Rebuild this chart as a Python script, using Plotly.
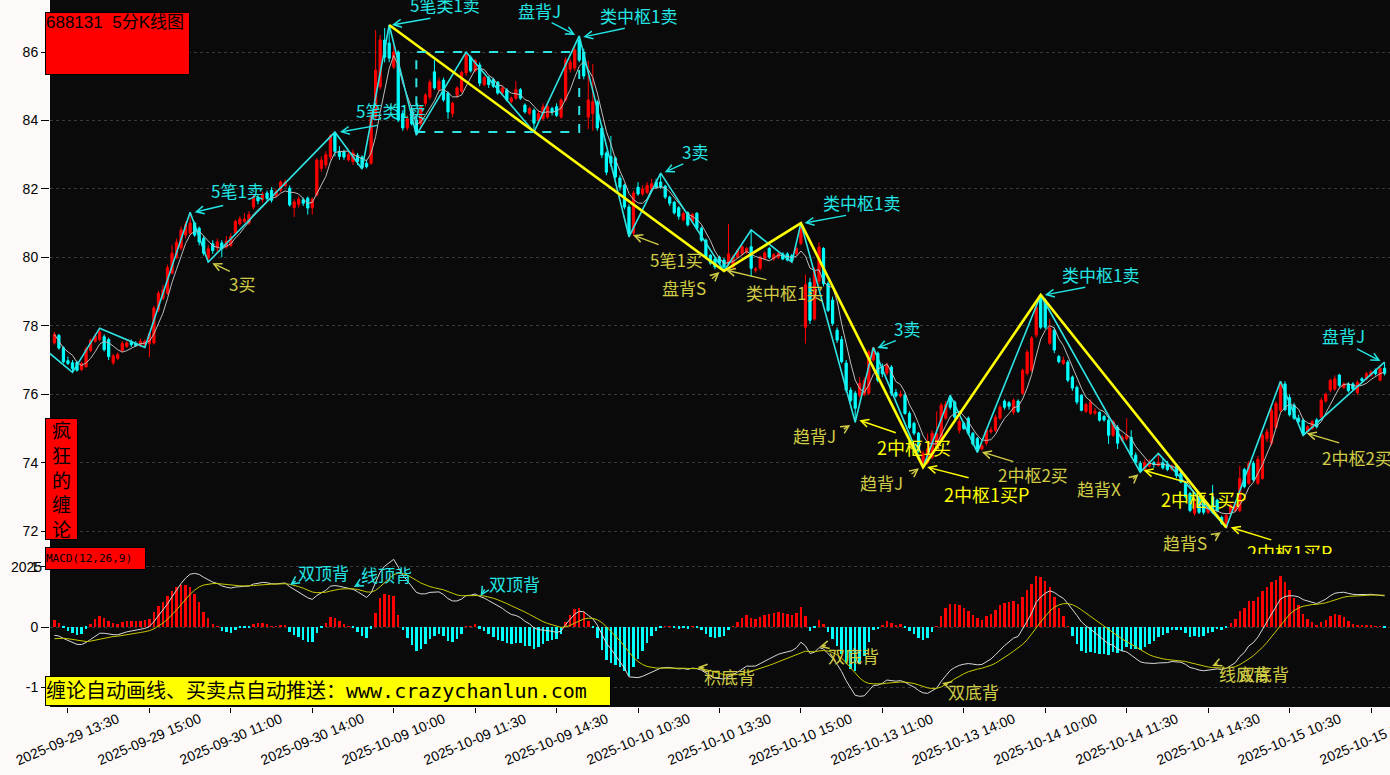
import numpy as np
import pandas as pd
import plotly.graph_objects as go

# ---------------- data (5-minute bars, 688131) ----------------
opens = [77.50,77.72,77.36,76.98,76.92,76.93,76.72,76.80,77.28,77.55,77.60,77.68,77.60,76.92,77.05,77.28,77.40,77.52,77.48,77.42,
         77.45,77.48,77.50,78.46,78.80,78.95,79.54,80.00,80.27,80.65,80.71,81.00,80.85,80.56,79.98,80.40,80.28,80.42,80.30,80.35,
         80.71,80.98,81.05,81.00,81.47,81.75,81.68,81.88,81.96,81.80,81.96,82.10,82.02,81.45,81.55,81.68,81.73,81.45,81.82,82.60,
         82.70,82.93,83.63,83.10,83.08,82.85,82.80,82.98,82.93,82.75,82.75,84.10,84.98,86.35,86.26,85.56,86.00,84.20,83.78,84.30,
         84.01,83.90,84.50,84.68,85.42,84.90,85.18,84.80,84.20,84.74,84.85,85.39,85.85,85.45,85.62,85.05,85.25,85.20,85.12,84.80,
         84.89,84.55,84.65,84.90,84.45,84.20,84.30,84.00,84.05,84.10,84.35,84.40,84.10,84.60,85.50,85.53,86.35,86.00,84.10,84.20,
         84.54,83.78,83.05,82.95,82.90,82.32,82.11,81.47,80.71,82.05,81.85,81.90,82.00,82.20,82.20,82.08,81.76,81.61,81.45,81.10,
         81.30,81.05,81.29,80.85,80.50,80.06,79.95,80.00,79.92,79.80,79.72,80.01,80.10,80.15,80.31,79.62,79.68,79.97,80.26,79.95,
         80.00,80.10,80.10,80.05,80.11,80.41,77.96,79.27,78.20,79.30,80.26,79.23,78.75,77.87,77.60,76.91,76.12,76.03,75.97,76.00,
         76.03,77.00,77.20,76.80,76.62,76.79,76.05,75.95,75.97,75.44,75.15,74.86,73.98,74.00,74.16,74.50,74.65,75.30,75.91,75.77,
         74.95,75.15,75.30,74.86,74.71,74.40,74.57,74.90,74.95,75.30,75.80,75.75,75.47,75.80,76.03,76.61,76.70,77.73,78.84,78.75,
         77.49,77.87,77.10,76.90,76.94,76.50,76.20,75.97,75.50,75.44,75.45,75.47,75.35,75.24,74.80,75.03,74.65,74.70,74.74,74.22,
         73.98,73.80,73.90,74.00,73.92,74.00,73.95,73.80,73.90,73.70,73.40,73.10,72.52,72.95,72.90,72.55,73.00,72.90,72.40,72.11,
         72.50,72.60,72.60,73.80,73.40,73.98,73.40,73.54,74.70,74.57,75.03,75.53,76.30,75.90,75.68,75.30,75.24,74.90,75.00,75.25,
         75.33,75.80,76.12,76.15,76.56,76.20,76.30,76.30,76.05,76.45,76.45,76.55,76.70,76.41,76.76]
highs = [77.82,77.76,77.40,77.10,77.00,76.98,76.95,77.38,77.62,77.78,77.93,77.75,77.65,77.18,77.22,77.55,77.58,77.60,77.55,77.62,
         77.60,77.80,78.58,79.02,79.20,79.78,80.35,80.55,80.90,81.05,81.32,81.05,80.90,80.62,80.35,80.50,80.55,80.50,80.62,80.70,
         81.10,81.20,81.30,81.35,81.85,81.82,81.92,81.95,82.05,82.00,82.25,82.28,82.10,81.70,81.78,81.75,81.78,81.75,82.90,82.95,
         83.10,83.60,83.66,83.25,83.15,83.10,83.15,83.05,82.98,82.85,84.30,86.64,86.50,86.70,86.79,86.20,86.05,84.30,84.15,84.40,
         84.05,84.45,84.80,85.20,85.77,85.25,85.25,84.85,84.55,85.00,85.45,86.00,85.90,85.80,85.70,85.30,85.30,85.25,85.15,85.00,
         84.95,84.70,85.15,84.95,84.50,84.40,84.35,84.30,84.50,84.50,84.40,84.50,84.65,85.85,85.80,86.20,86.47,86.10,85.75,85.65,
         84.60,83.85,83.10,83.55,82.95,82.40,82.15,81.55,81.95,82.20,82.10,82.20,82.30,82.30,82.46,82.12,81.80,81.65,81.50,81.35,
         81.35,81.30,81.32,80.90,80.55,80.10,80.00,80.05,79.98,80.97,80.08,80.25,80.35,80.30,80.80,79.72,80.05,80.18,80.30,80.12,
         80.15,80.15,80.15,80.10,80.30,81.00,79.50,79.40,79.70,80.44,80.30,79.30,78.85,77.95,77.70,77.00,76.20,76.10,76.50,76.50,
         77.30,77.37,77.25,76.90,76.92,76.85,76.15,76.10,76.05,75.50,75.20,74.90,74.35,74.85,74.95,75.50,75.75,75.80,75.97,75.82,
         75.30,75.20,75.35,74.90,74.75,74.55,75.00,75.05,75.40,75.70,75.85,75.80,75.88,75.85,76.75,77.30,77.70,78.60,78.90,78.80,
         78.20,77.95,77.15,77.10,77.00,76.55,76.25,76.00,75.75,75.85,75.60,75.50,75.40,75.30,75.25,75.10,74.80,75.30,74.95,74.30,
         74.05,74.10,74.10,74.05,74.27,74.10,74.05,73.95,73.95,73.75,73.45,73.15,72.90,73.00,72.95,72.75,73.35,72.95,72.45,72.50,
         72.80,72.85,73.90,73.85,74.05,74.05,74.20,74.85,75.00,75.60,75.80,76.38,76.38,76.00,75.75,75.40,75.30,75.10,75.25,75.30,
         75.90,76.05,76.45,76.55,76.60,76.35,76.35,76.35,76.40,76.50,76.65,76.70,76.75,76.85,76.94]
lows = [77.45,77.30,76.90,76.85,76.64,76.66,76.68,76.78,77.22,77.50,77.55,77.25,77.00,76.85,77.00,77.22,77.35,77.38,77.38,77.38,
        77.37,77.08,77.45,78.40,78.75,78.90,79.50,79.95,80.20,80.55,80.65,80.60,80.35,80.05,79.86,80.10,80.15,80.00,80.25,80.30,
        80.65,80.92,81.00,80.95,81.40,81.55,81.60,81.65,81.60,81.75,81.90,82.05,81.48,81.18,81.45,81.50,81.25,81.25,81.78,82.50,
        82.60,82.85,82.95,82.85,82.85,82.80,82.70,82.70,82.58,82.60,82.70,84.00,84.90,85.70,85.70,85.50,83.95,83.70,83.70,83.85,
        83.57,83.80,84.40,84.60,84.90,84.85,84.55,84.05,84.10,84.65,84.80,85.30,85.40,85.40,85.00,85.00,84.95,84.95,84.75,84.75,
        84.55,84.50,84.60,84.60,84.20,84.15,83.66,83.95,84.00,84.05,84.15,84.10,84.05,84.55,85.40,85.45,85.70,85.20,83.75,83.70,
        83.70,82.90,82.40,82.65,82.30,81.95,81.40,80.60,80.62,81.80,81.80,81.85,81.95,82.00,82.00,81.70,81.50,81.25,81.10,81.05,
        80.90,81.00,80.80,80.45,79.95,79.78,79.65,79.78,79.60,79.75,79.68,79.95,80.05,80.10,79.43,79.55,79.62,79.92,79.95,79.90,
        79.95,79.92,79.88,79.86,80.05,80.35,77.48,78.05,78.15,79.20,79.15,78.40,78.00,77.50,76.90,76.05,75.75,75.18,75.90,75.95,
        75.98,76.95,76.35,76.50,76.55,75.95,75.90,75.90,75.40,74.98,74.80,74.30,73.87,73.95,74.10,74.45,74.60,75.25,75.55,75.25,
        74.85,74.95,74.80,74.50,74.30,74.35,74.50,74.85,74.90,75.25,75.55,75.55,75.40,75.45,75.98,76.55,76.65,77.65,77.90,77.90,
        77.45,77.20,76.90,76.85,76.35,76.10,75.70,75.50,75.45,75.40,75.40,75.20,75.20,74.55,74.75,74.40,74.60,74.65,74.15,73.95,
        73.72,73.75,73.85,73.85,73.88,73.80,73.75,73.75,73.55,73.40,72.95,72.55,72.45,72.50,72.48,72.50,72.50,72.55,72.18,72.11,
        72.45,72.55,72.55,73.25,73.35,73.45,73.35,73.50,74.60,74.50,74.98,75.48,75.50,75.35,75.25,75.15,74.80,74.85,74.95,75.00,
        75.30,75.75,76.05,76.10,76.20,76.15,76.05,76.10,75.98,76.35,76.40,76.50,76.55,76.38,76.55]
closes = [77.75,77.35,76.95,76.90,76.75,76.70,76.90,77.32,77.58,77.70,77.82,77.30,77.10,77.12,77.16,77.48,77.50,77.45,77.42,77.55,
          77.55,77.78,78.52,78.95,79.05,79.70,80.12,80.44,80.80,80.95,81.00,80.65,80.45,80.12,80.25,80.20,80.45,80.25,80.48,80.60,
          81.05,81.12,81.12,81.25,81.76,81.65,81.85,81.72,81.67,81.92,82.20,82.20,81.53,81.62,81.70,81.58,81.44,81.70,82.84,82.84,
          83.00,83.55,83.10,82.95,82.93,83.00,83.05,82.80,82.62,82.65,84.10,85.47,86.35,85.85,85.82,86.00,84.01,83.78,84.05,83.90,
          83.66,84.40,84.74,85.12,84.95,85.15,84.60,84.25,84.50,84.95,85.40,85.91,85.45,85.75,85.09,85.25,85.05,85.00,84.80,84.95,
          84.60,84.65,84.90,84.65,84.25,84.35,83.92,84.20,84.40,84.40,84.25,84.15,84.60,85.77,85.70,86.06,85.77,85.30,84.60,84.55,
          83.78,82.99,82.49,82.75,82.35,82.05,81.47,80.70,81.88,81.85,82.00,82.10,82.15,82.05,82.05,81.76,81.58,81.30,81.20,81.28,
          80.95,81.25,80.85,80.50,80.00,79.83,79.72,79.83,79.72,80.10,80.01,80.20,80.31,80.26,79.68,79.66,80.01,80.13,80.01,80.08,
          80.11,79.95,79.92,79.90,80.26,80.90,79.20,78.16,79.60,80.30,79.23,78.45,78.07,77.58,76.95,76.12,75.82,75.59,76.32,76.40,
          77.23,77.35,76.41,76.60,76.85,76.03,75.95,76.00,75.44,75.03,74.86,74.36,74.27,74.40,74.86,74.85,75.68,75.70,75.62,75.33,
          75.20,75.00,74.86,74.55,74.40,74.50,74.95,74.95,75.33,75.62,75.62,75.65,75.82,75.50,76.70,77.23,77.64,78.54,77.96,77.96,
          77.93,77.29,76.95,77.00,76.41,76.18,75.77,75.53,75.70,75.77,75.50,75.24,75.25,74.80,75.20,74.57,74.75,74.80,74.22,74.01,
          73.75,74.00,74.00,73.95,74.00,73.85,73.80,73.90,73.62,73.43,73.00,72.60,72.81,72.55,72.55,72.70,72.55,72.60,72.23,72.46,
          72.75,72.80,73.54,73.30,73.98,73.50,74.10,74.80,74.90,75.53,75.73,76.35,75.55,75.40,75.30,75.20,74.85,75.05,75.20,75.05,
          75.82,76.00,76.41,76.45,76.26,76.30,76.10,76.15,76.35,76.40,76.60,76.65,76.60,76.76,76.61]

tick_pos = [3, 21, 39, 57, 75, 93, 111, 129, 147, 165, 183, 201, 219, 237, 255, 273, 291]
tick_text = ["2025-09-29 13:30", "2025-09-29 15:00", "2025-09-30 11:00", "2025-09-30 14:00",
             "2025-10-09 10:00", "2025-10-09 11:30", "2025-10-09 14:30", "2025-10-10 10:30",
             "2025-10-10 13:30", "2025-10-10 15:00", "2025-10-13 11:00", "2025-10-13 14:00",
             "2025-10-14 10:00", "2025-10-14 11:30", "2025-10-14 14:30", "2025-10-15 10:30",
             "2025-10-15 13:30"]

# strokes (bi) and segments (xianduan)
bi_idx = [-2, 4, 10, 20, 30, 34, 62, 68, 74, 80, 91, 106, 116, 127, 134, 148, 154, 163, 165, 177,
          181, 192, 198, 204, 218, 240, 244, 259, 271, 276, 294]
bi_val = [77.30, 76.64, 77.93, 77.37, 81.32, 79.86, 83.66, 82.58, 86.79, 83.57, 86.00, 83.66, 86.47, 80.60,
          82.46, 79.60, 80.80, 79.86, 81.00, 75.18, 77.37, 73.87, 75.97, 74.30, 78.90, 73.72, 74.27, 72.11,
          76.38, 74.80, 76.94]
seg_idx = [74, 148, 165, 192, 218, 259]
seg_val = [86.79, 79.60, 81.00, 73.87, 78.90, 72.11]
zs_start = [80]
zs_end = [116]
zs_high = [86.00]
zs_low = [83.66]

# ---------------- derived indicators ----------------
N = len(closes)
xs = np.arange(N)
c = np.array(closes)
ma = pd.Series(c).rolling(5, min_periods=1).mean().values

ema12, ema26, dea = 77.62, 77.78, -0.21   # values carried in from before the window
dif_l, dea_l = [], []
for v in c:
    ema12 = ema12 + 2.0 / 13 * (v - ema12)
    ema26 = ema26 + 2.0 / 27 * (v - ema26)
    d = ema12 - ema26
    dea = dea + 0.2 * (d - dea)
    dif_l.append(d)
    dea_l.append(dea)
dif = np.array(dif_l)
deaa = np.array(dea_l)
hist = 2 * (dif - deaa)

RED = '#ff0000'
CYN = '#00ffff'
BI = '#2fe3e3'
C_T = '#22e5e5'
O_T = '#d0cc45'
Y_T = '#ffff00'

fig = go.Figure()
fig.add_trace(go.Candlestick(
    x=xs, open=opens, high=highs, low=lows, close=closes,
    increasing=dict(line=dict(color=RED, width=1), fillcolor=RED),
    decreasing=dict(line=dict(color=CYN, width=1), fillcolor=CYN),
    whiskerwidth=0, xaxis='x', yaxis='y', hoverinfo='skip', showlegend=False))
fig.add_trace(go.Scatter(x=xs, y=ma, mode='lines', line=dict(color='#bdbdbd', width=1),
                         hoverinfo='skip', showlegend=False, xaxis='x', yaxis='y'))
fig.add_trace(go.Scatter(x=bi_idx, y=bi_val, mode='lines', line=dict(color=BI, width=1.6),
                         hoverinfo='skip', showlegend=False, xaxis='x', yaxis='y'))
fig.add_trace(go.Scatter(x=seg_idx, y=seg_val, mode='lines', line=dict(color='#ffff00', width=2.6),
                         hoverinfo='skip', showlegend=False, xaxis='x', yaxis='y'))

shapes = []
for s, e, h, l in zip(zs_start, zs_end, zs_high, zs_low):
    shapes.append(dict(type='rect', xref='x', yref='y', x0=s, x1=e, y0=l, y1=h,
                       line=dict(color=BI, width=2, dash='dash'), fillcolor='rgba(0,0,0,0)'))

# MACD
fig.add_trace(go.Bar(x=xs, y=hist, width=0.55,
                     marker=dict(color=[RED if v >= 0 else CYN for v in hist], line=dict(width=0)),
                     hoverinfo='skip', showlegend=False, xaxis='x2', yaxis='y2'))
fig.add_trace(go.Scatter(x=xs, y=dif, mode='lines', line=dict(color='#d8d8d8', width=1),
                         hoverinfo='skip', showlegend=False, xaxis='x2', yaxis='y2'))
fig.add_trace(go.Scatter(x=xs, y=deaa, mode='lines', line=dict(color='#c8c800', width=1),
                         hoverinfo='skip', showlegend=False, xaxis='x2', yaxis='y2'))

# ---------------- labels ----------------
# (text, color, text_x, text_y, tip_x, tip_y, tail_dx_px, tail_dy_px, font size)
main_labels = [
    ("5笔1卖", C_T, 40.4, 81.94, 31.0, 81.32, 30, -7, 17),
    ("3买", O_T, 41.5, 79.25, 34.9, 79.83, 19, 9, 17),
    ("5笔类1卖", C_T, 74.3, 84.30, 63.1, 83.66, 39, -7, 17),
    ("5笔类1卖", C_T, 86.3, 87.40, 74.6, 86.79, 40, -7, 17),
    ("盘背J", C_T, 107.2, 87.20, 115.1, 86.50, -25, -13, 17),
    ("类中枢1卖", C_T, 129.2, 87.08, 116.9, 86.44, 43, -9, 17),
    ("3卖", C_T, 141.5, 83.08, 134.9, 82.49, 20, -9, 17),
    ("5笔1买", O_T, 137.4, 79.95, 127.9, 80.65, 27, 10, 17),
    ("盘背S", O_T, 139.1, 79.13, 147.0, 79.57, -9, 8, 17),
    ("类中枢1买", O_T, 161.4, 78.96, 148.4, 79.63, 42, 10, 17),
    ("类中枢1卖", C_T, 178.3, 81.61, 165.8, 81.00, 43, -8, 17),
    ("3卖", C_T, 188.5, 77.93, 181.9, 77.35, 20, -8, 17),
    ("趋背J", O_T, 168.0, 74.78, 175.9, 75.10, -8, 5, 17),
    ("2中枢1买", Y_T, 190.0, 74.45, 177.9, 75.24, 38, 13, 18),
    ("趋背J", O_T, 182.9, 73.43, 191.1, 73.84, -9, 7, 17),
    ("2中枢1买P", Y_T, 206.1, 73.08, 192.9, 73.87, 43, 11, 18),
    ("2中枢2买", O_T, 216.2, 73.64, 205.0, 74.31, 33, 10, 17),
    ("类中枢1卖", C_T, 231.2, 79.51, 218.9, 78.90, 42, -8, 17),
    ("趋背X", O_T, 230.9, 73.25, 239.6, 73.66, -7, 6, 17),
    ("2中枢1买P", Y_T, 253.9, 72.93, 240.7, 73.78, 46, 13, 18),
    ("趋背S", O_T, 249.9, 71.68, 257.8, 71.97, -7, 5, 17),
    ("2中枢2买", O_T, 287.8, 74.16, 276.8, 74.86, 34, 10, 17),
    ("盘背J", C_T, 285.0, 77.73, 293.1, 76.97, -25, -13, 17),
]
macd_labels = [
    ("双顶背", C_T, 59.4, 0.90, 52.1, 0.70, 7, -5, 17),
    ("线顶背", C_T, 73.3, 0.883, 66.2, 0.667, 7, -4, 17),
    ("双顶背", C_T, 101.7, 0.733, 94.2, 0.517, 5, -8, 17),
    ("积底背", O_T, 149.3, -0.833, 142.2, -0.667, 8, 1, 17),
    ("双底背", O_T, 176.6, -0.483, 169.1, -0.333, 8, -2, 17),
    ("双底背", O_T, 203.2, -1.067, 196.2, -0.933, 7, 2, 17),
    ("线底背", O_T, 263.0, -0.767, 255.9, -0.65, 7, -3, 17),
    ("双底背", O_T, 267.3, -0.767, None, None, 0, 0, 17),
]

CJK = "Noto Sans CJK SC"
anns = []


def add_label(t, col, tx, ty, px, py, dx, dy, fs, xr, yr):
    anns.append(dict(x=tx, y=ty, xref=xr, yref=yr, text=t, showarrow=False,
                     font=dict(family=CJK, size=fs, color=col), xanchor='center', yanchor='middle'))
    if px is not None:
        anns.append(dict(x=px, y=py, xref=xr, yref=yr, text='', showarrow=True, ax=dx, ay=dy,
                         arrowhead=5, arrowsize=1.1, arrowwidth=1.4, arrowcolor=col, standoff=0))


for lab in main_labels:
    add_label(*lab, 'x', 'y')
for lab in macd_labels:
    add_label(*lab, 'x2', 'y2')

# label clipped at the bottom edge of the price panel
anns.append(dict(x=273.0, y=71.82, xref='x', yref='y', text='2中枢1买P', showarrow=False,
                 font=dict(family=CJK, size=18, color=Y_T), xanchor='center', yanchor='top',
                 height=15, valign='top'))
anns.append(dict(x=260.0, y=72.11, xref='x', yref='y', text='', showarrow=True, ax=42, ay=13,
                 arrowhead=5, arrowsize=1.1, arrowwidth=1.4, arrowcolor=Y_T, standoff=0))

# boxes
PW = 1340.0
PH = 707.0


def px_x(X):
    return (X - 50) / PW


def px_y(Y):
    return (PH - Y) / PH


# rotated time labels, centred under their ticks
for tp, tt in zip(tick_pos, tick_text):
    anns.append(dict(x=tp, y=px_y(739), xref='x2', yref='paper', text=tt, showarrow=False,
                     textangle=-23, xanchor='center', yanchor='middle',
                     font=dict(family='Liberation Sans', size=14, color='#000000')))

anns.append(dict(x=px_x(45), y=px_y(12), xref='paper', yref='paper', xanchor='left', yanchor='top',
                 text='688131\u00a0\u00a05分K线图', showarrow=False, align='left', valign='top',
                 width=143, height=61, bgcolor=RED, bordercolor='#000000', borderwidth=1, borderpad=0,
                 font=dict(family="Liberation Sans, " + CJK, size=17, color='#000000')))
anns.append(dict(x=px_x(45), y=px_y(418), xref='paper', yref='paper', xanchor='left', yanchor='top',
                 text='疯<br>狂<br>的<br>缠<br>论', showarrow=False, align='center', valign='middle',
                 width=31, height=120, bgcolor=RED, bordercolor='#000000', borderwidth=1, borderpad=0,
                 font=dict(family=CJK, size=19, color='#000000')))
anns.append(dict(x=px_x(45), y=px_y(547), xref='paper', yref='paper', xanchor='left', yanchor='top',
                 text='MACD(12,26,9)', showarrow=False, align='left', valign='middle',
                 width=99, height=21, bgcolor=RED, bordercolor='#000000', borderwidth=1, borderpad=0,
                 font=dict(family='DejaVu Sans Mono', size=11, color='#000000')))
anns.append(dict(x=px_x(45), y=px_y(676), xref='paper', yref='paper', xanchor='left', yanchor='top',
                 text='缠论自动画线、买卖点自动推送：www.crazychanlun.com', showarrow=False,
                 align='left', valign='middle', width=564, height=28, bgcolor='#ffff00',
                 bordercolor='#000000', borderwidth=1, borderpad=0,
                 font=dict(family='DejaVu Sans Mono, ' + CJK, size=20, color='#000000')))
anns.append(dict(x=px_x(44), y=px_y(567), xref='paper', yref='paper', xanchor='right', yanchor='middle',
                 text='2025', showarrow=False, font=dict(family='Liberation Sans', size=14, color='#000000')))

GRID = '#3a3a3a'
fig.update_layout(
    width=1390, height=775,
    margin=dict(l=50, r=0, t=0, b=68),
    paper_bgcolor='#fcf9f8', plot_bgcolor='#0a0a0a',
    showlegend=False, hovermode=False, bargap=0,
    xaxis=dict(domain=[0, 1], anchor='y', range=[-0.97, 295.2], showticklabels=False,
               tickvals=tick_pos, ticks='', showgrid=False, zeroline=False,
               rangeslider=dict(visible=False), automargin=False, fixedrange=True),
    yaxis=dict(domain=[0.2178, 1], anchor='x', range=[71.36, 87.52], tickvals=[72, 74, 76, 78, 80, 82, 84, 86],
               ticks='outside', ticklen=8, tickcolor='#000000', showgrid=True, gridcolor=GRID,
               griddash='dot', gridwidth=1, zeroline=False, automargin=False,
               tickfont=dict(family='Liberation Sans', size=14, color='#000000')),
    xaxis2=dict(domain=[0, 1], anchor='y2', matches='x', range=[-0.97, 295.2], tickvals=tick_pos,
                showticklabels=False, ticks='outside', ticklen=5, tickcolor='#000000',
                showgrid=False, zeroline=False, automargin=False),
    yaxis2=dict(domain=[0, 0.2178], anchor='x2', range=[-1.333, 1.233], tickvals=[-1, 0, 1],
                ticktext=['-1', '0', '1'], ticks='outside', ticklen=8, tickcolor='#000000',
                showgrid=True, gridcolor=GRID, griddash='dot', gridwidth=1, zeroline=False,
                automargin=False, tickfont=dict(family='Liberation Sans', size=14, color='#000000')),
    shapes=shapes,
    annotations=anns,
)

fig.write_html("out.html", config={'displayModeBar': False},
               post_script="document.body.style.margin='0px';document.body.style.overflow='hidden';")
